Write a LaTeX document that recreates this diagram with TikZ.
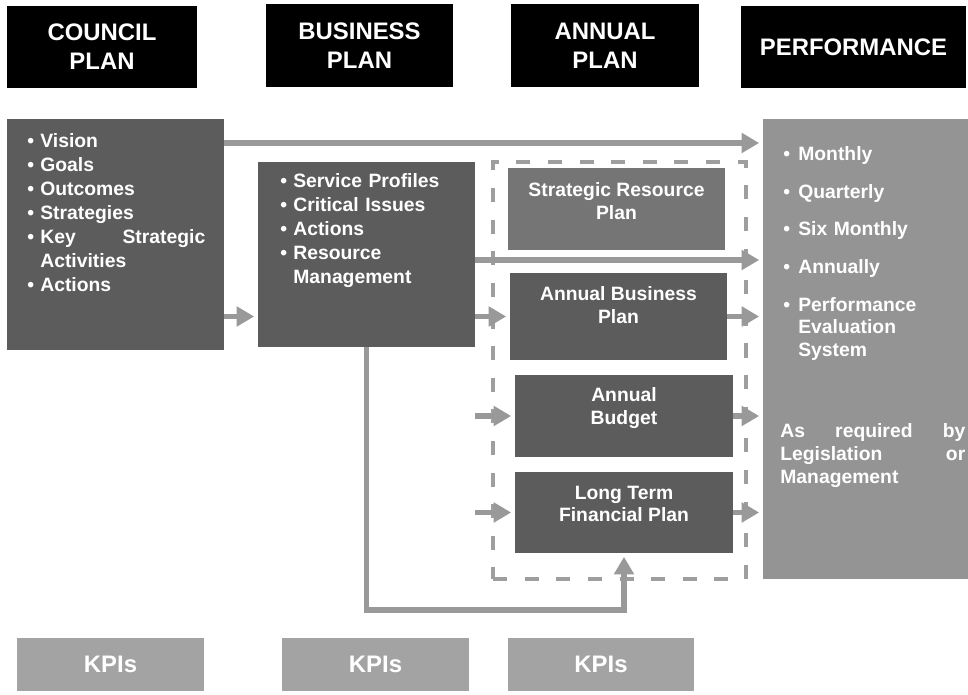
\documentclass[tikz,border=0pt]{standalone}
\usepackage{fontspec}
\setmainfont{Liberation Sans}
\usepackage{tikz}
\usetikzlibrary{arrows.meta}

\definecolor{hatchdark}{gray}{0.36}
\definecolor{hatchmid}{gray}{0.46}
\definecolor{dotgray}{gray}{0.58}
\definecolor{kpigray}{gray}{0.64}
\definecolor{arrowgray}{gray}{0.6}
\definecolor{dashgray}{gray}{0.62}

\newcommand{\bul}[1][0.26cm]{\makebox[#1][l]{\textbullet}}

\begin{document}
\begin{tikzpicture}[x=0.02cm,y=-0.02cm,
  hdr/.style={fill=black,text=white,font=\fontsize{13.6}{16.4}\selectfont\bfseries,align=center,inner sep=0pt},
  darkbox/.style={fill=hatchdark,inner sep=0pt},
  midbox/.style={fill=hatchmid,inner sep=0pt},
  dotbox/.style={fill=dotgray,inner sep=0pt},
  kpibox/.style={fill=kpigray,text=white,font=\fontsize{13.6}{16.4}\selectfont\bfseries,inner sep=0pt,minimum height=1.06cm},
  boxtext/.style={text=white,font=\fontsize{11}{12.8}\selectfont\bfseries,align=center,inner sep=0pt},
  listtext/.style={text=white,font=\fontsize{11}{13.7}\selectfont\bfseries,inner sep=0pt,anchor=north west},
  flowline/.style={draw=arrowgray,line width=3.4pt,shorten >=2pt,-{Triangle[length=10pt,width=11pt]}},
  dashframe/.style={draw=dashgray,line width=1.8pt,dash pattern=on 8pt off 10pt,inner sep=0pt}]

\useasboundingbox (0,0) rectangle (968,695);

\node[hdr,minimum width=3.8cm,minimum height=1.64cm] (hcouncil) at (102,47) {COUNCIL\\PLAN};
\node[hdr,minimum width=3.74cm,minimum height=1.66cm] (hbusiness) at (359.5,45.5) {BUSINESS\\PLAN};
\node[hdr,minimum width=3.76cm,minimum height=1.66cm] (hannual) at (605,45.5) {ANNUAL\\PLAN};
\node[hdr,minimum width=4.5cm,minimum height=1.64cm] (hperf) at (853.5,47) {PERFORMANCE};

\node[dashframe,minimum width=5.06cm,minimum height=8.34cm] (annframe) at (619.5,370.5) {};

\node[darkbox,minimum width=4.34cm,minimum height=4.62cm] (cp) at (115.5,234.5) {};
\node[listtext,text width=3.56cm] (cptext) at (27,133) {\bul Vision\\ \bul Goals\\ \bul Outcomes\\ \bul Strategies\\ \bul Key\hfill Strategic\\ \hspace*{0.26cm}Activities\\ \bul Actions};

\node[darkbox,minimum width=4.34cm,minimum height=3.7cm] (bp) at (366.5,254.5) {};
\node[listtext,text width=3.9cm] (bptext) at (280,173) {\bul Service Profiles\\ \bul Critical Issues\\ \bul Actions\\ \bul Resource\\ \hspace*{0.26cm}Management};

\node[midbox,minimum width=4.34cm,minimum height=1.64cm] (srp) at (616.5,209) {};
\node[boxtext] (srptext) at (616.5,201) {Strategic Resource\\Plan};
\node[darkbox,minimum width=4.34cm,minimum height=1.74cm] (abp) at (618.5,316.5) {};
\node[boxtext] (abptext) at (618.5,305) {Annual Business\\Plan};
\node[darkbox,minimum width=4.36cm,minimum height=1.64cm] (ab) at (624,416) {};
\node[boxtext] (abtext) at (624,408) {Annual\\Budget};
\node[darkbox,minimum width=4.36cm,minimum height=1.62cm] (ltfp) at (624,512.5) {};
\node[boxtext] (ltfptext) at (624,504) {Long Term\\Financial Plan};

\node[dotbox,minimum width=4.1cm,minimum height=9.2cm] (pf) at (865.5,349) {};
\node[listtext,text width=3.6cm,font=\fontsize{11}{12.8}\selectfont\bfseries] (pftext) at (783,146) {\bul[0.3cm]Monthly\\[8.7pt] \bul[0.3cm]Quarterly\\[8.7pt] \bul[0.3cm]Six Monthly\\[8.7pt] \bul[0.3cm]Annually\\[8.7pt] \bul[0.3cm]Performance\\ \hspace*{0.3cm}Evaluation\\ \hspace*{0.3cm}System};
\node[listtext,text width=3.7cm,font=\fontsize{11}{13}\selectfont\bfseries] (pfnote) at (780,423) {As\hfill required\hfill by\\ Legislation\hfill or\\ Management};

\node[kpibox,minimum width=3.74cm] (kpi1) at (110.5,664.5) {KPIs};
\node[kpibox,minimum width=3.74cm] (kpi2) at (375.5,664.5) {KPIs};
\node[kpibox,minimum width=3.72cm] (kpi3) at (601,664.5) {KPIs};

\draw[flowline] (cp.east |- 0,143) -- (pf.west |- 0,143);
\draw[flowline] (cp.east |- abp.west) -- (bp.west |- abp.west);
\draw[flowline] (bp.east |- 0,260) -- (pf.west |- 0,260);
\draw[flowline] (bp.east |- abp.west) -- (abp.west);
\draw[flowline] (bp.east |- ab.west) -- (ab.west);
\draw[flowline] (bp.east |- ltfp.west) -- (ltfp.west);
\draw[flowline] (abp.east) -- (abp.east -| pf.west);
\draw[flowline] (ab.east) -- (ab.east -| pf.west);
\draw[flowline] (ltfp.east) -- (ltfp.east -| pf.west);
\draw[flowline] (bp.south) -- ++(0,263) -| (ltfp.south);
\end{tikzpicture}
\end{document}
